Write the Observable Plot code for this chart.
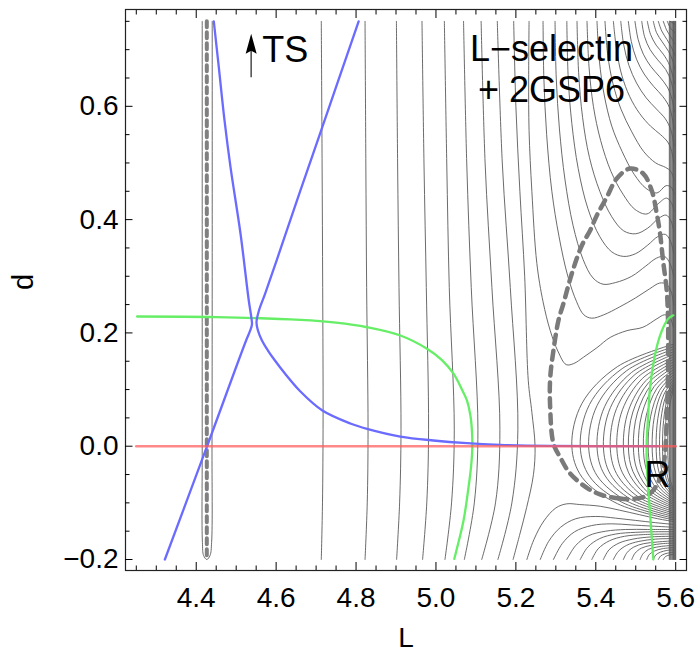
<!DOCTYPE html>
<html><head><meta charset="utf-8">
<script src="https://cdn.jsdelivr.net/npm/d3@7"></script>
<script src="https://cdn.jsdelivr.net/npm/@observablehq/plot@0.6"></script>
<style>body{margin:0;background:#fff}#chart{width:698px;height:656px}</style>
</head><body><div id="chart"></div>
<script>
// ---- tick values ----
const xMajor = [4.4, 4.6, 4.8, 5.0, 5.2, 5.4, 5.6];
const xMinor = [4.25,4.3,4.35,4.45,4.5,4.55,4.65,4.7,4.75,4.85,4.9,4.95,5.05,5.1,5.15,5.25,5.3,5.35,5.45,5.5,5.55];
const yMajor = [-0.2, 0.0, 0.2, 0.4, 0.6];
const yMinor = [-0.15,-0.1,-0.05,0.05,0.1,0.15,0.25,0.3,0.35,0.45,0.5,0.55,0.65,0.7,0.75];

// ---- gray contour lines [L, d] ----
const contourLeft = [
  [[4.415,0.75],[4.415,0.3],[4.415,0.0],[4.4155,-0.17],[4.4185,-0.193],[4.4265,-0.2],[4.4345,-0.193],[4.4385,-0.17],[4.4395,0.0],[4.44,0.3],[4.44,0.75]],
  [[4.713,0.75],[4.715,0.5],[4.7165,0.28],[4.7175,0.05],[4.716,-0.1],[4.713,-0.2]],
  [[4.8225,0.75],[4.8245,0.5],[4.8265,0.28],[4.83,0.03],[4.828,-0.1],[4.8225,-0.2]],
  [[4.901,0.75],[4.904,0.5],[4.9075,0.28],[4.9125,0.03],[4.909,-0.1],[4.9015,-0.2]],
  [[4.965,0.75],[4.97,0.5],[4.9758,0.28],[4.9815,0.03],[4.977,-0.1],[4.9665,-0.2]],
  [[5.021,0.75],[5.027,0.5],[5.0333,0.28],[5.0458,0.03],[5.039,-0.1],[5.0225,-0.2]],
  [[5.069,0.75],[5.077,0.5],[5.0883,0.28],[5.105,0.03],[5.096,-0.1],[5.071,-0.2]],
  [[5.113,0.75],[5.123,0.5],[5.14,0.28],[5.16,0.03],[5.149,-0.1],[5.1145,-0.2]],
  [[5.1535,0.75],[5.166,0.5],[5.186,0.28],[5.205,0.03],[5.19,-0.1],[5.155,-0.2]],
  [[5.1945,0.75],[5.2,0.6],[5.21,0.45],[5.222,0.3],[5.231,0.116],[5.24,0.06],[5.248,0.0],[5.244,-0.05],[5.227,-0.108],[5.21,-0.155],[5.193,-0.2]]
];
const contourUpper = [
  [[5.233,0.75],[5.232,0.65],[5.233,0.557],[5.24,0.45],[5.2525,0.3225],[5.268,0.255],[5.286,0.204],[5.305,0.168],[5.326,0.144],[5.345,0.146],[5.369,0.157],[5.403,0.174],[5.436,0.192],[5.478,0.204],[5.518,0.21],[5.553,0.225],[5.572,0.232],[5.585,0.228],[5.594,0.21]],
  [[5.268,0.75],[5.27,0.65],[5.277,0.55],[5.29,0.45],[5.308,0.37],[5.33,0.3],[5.352,0.255],[5.37,0.232],[5.39,0.226],[5.42,0.232],[5.46,0.246],[5.5,0.262],[5.535,0.278],[5.56,0.288],[5.577,0.286],[5.589,0.272],[5.595,0.25]],
  [[5.298,0.75],[5.301,0.65],[5.309,0.56],[5.323,0.47],[5.343,0.39],[5.368,0.33],[5.393,0.297],[5.418,0.286],[5.45,0.289],[5.49,0.3],[5.525,0.318],[5.552,0.332],[5.572,0.335],[5.586,0.322],[5.595,0.3]],
  [[5.3275,0.75],[5.331,0.65],[5.34,0.57],[5.356,0.49],[5.38,0.42],[5.41,0.37],[5.44,0.343],[5.47,0.335],[5.5,0.34],[5.53,0.355],[5.555,0.37],[5.574,0.374],[5.587,0.362],[5.595,0.34]],
  [[5.353,0.75],[5.357,0.66],[5.367,0.58],[5.384,0.51],[5.41,0.45],[5.44,0.405],[5.47,0.38],[5.5,0.375],[5.53,0.385],[5.557,0.402],[5.576,0.408],[5.588,0.398],[5.595,0.38]],
  [[5.378,0.75],[5.383,0.67],[5.394,0.6],[5.412,0.54],[5.438,0.485],[5.468,0.445],[5.498,0.418],[5.528,0.41],[5.556,0.428],[5.577,0.438],[5.589,0.43],[5.596,0.415]],
  [[5.403,0.75],[5.409,0.68],[5.421,0.62],[5.44,0.565],[5.466,0.52],[5.496,0.48],[5.526,0.455],[5.553,0.447],[5.576,0.46],[5.589,0.457],[5.596,0.445]],
  [[5.423,0.75],[5.43,0.69],[5.443,0.64],[5.463,0.595],[5.49,0.555],[5.52,0.52],[5.55,0.5],[5.575,0.492],[5.588,0.485],[5.596,0.47]],
  [[5.444,0.75],[5.452,0.7],[5.465,0.655],[5.485,0.617],[5.51,0.587],[5.537,0.565],[5.562,0.55],[5.58,0.537],[5.59,0.52],[5.595,0.5]],
  [[5.4625,0.75],[5.47,0.708],[5.483,0.672],[5.502,0.641],[5.526,0.615],[5.552,0.595],[5.574,0.578],[5.588,0.558],[5.596,0.53]],
  [[5.4815,0.75],[5.489,0.714],[5.502,0.683],[5.521,0.657],[5.545,0.635],[5.568,0.617],[5.585,0.597],[5.596,0.56]],
  [[5.498,0.75],[5.506,0.718],[5.519,0.692],[5.538,0.67],[5.56,0.652],[5.579,0.634],[5.591,0.612],[5.597,0.59]],
  [[5.515,0.75],[5.522,0.723],[5.536,0.7],[5.555,0.682],[5.575,0.665],[5.589,0.643],[5.597,0.615]],
  [[5.529,0.75],[5.537,0.727],[5.551,0.708],[5.569,0.692],[5.585,0.672],[5.597,0.64]],
  [[5.544,0.75],[5.552,0.73],[5.566,0.714],[5.582,0.697],[5.593,0.68],[5.598,0.665]],
  [[5.5565,0.75],[5.565,0.733],[5.578,0.718],[5.59,0.703],[5.598,0.69]],
  [[5.569,0.75],[5.577,0.735],[5.588,0.722],[5.598,0.71]],
  [[5.579,0.75],[5.587,0.738],[5.598,0.73]],
  [[5.586,0.75],[5.598,0.745]]
];
const contourLower = [
  [[5.2275,-0.2],[5.245,-0.165],[5.27,-0.132],[5.3,-0.109],[5.3275,-0.1017],[5.36,-0.103],[5.411,-0.106],[5.46,-0.113],[5.51,-0.121],[5.555,-0.128],[5.594,-0.133]],
  [[5.261,-0.2],[5.282,-0.168],[5.312,-0.143],[5.35,-0.128],[5.4,-0.124],[5.45,-0.127],[5.5,-0.131],[5.55,-0.135],[5.594,-0.138]],
  [[5.294,-0.2],[5.316,-0.172],[5.347,-0.151],[5.39,-0.14],[5.44,-0.137],[5.49,-0.139],[5.54,-0.141],[5.594,-0.143]],
  [[5.3275,-0.2],[5.35,-0.175],[5.382,-0.158],[5.425,-0.15],[5.475,-0.147],[5.53,-0.147],[5.594,-0.147]],
  [[5.361,-0.2],[5.38,-0.178],[5.41,-0.163],[5.45,-0.155],[5.5,-0.152],[5.55,-0.151],[5.594,-0.151]],
  [[5.39,-0.2],[5.406,-0.181],[5.434,-0.167],[5.472,-0.159],[5.52,-0.156],[5.594,-0.155]],
  [[5.419,-0.2],[5.433,-0.183],[5.458,-0.171],[5.493,-0.164],[5.54,-0.16],[5.594,-0.159]],
  [[5.444,-0.2],[5.456,-0.186],[5.477,-0.175],[5.508,-0.168],[5.55,-0.164],[5.594,-0.163]],
  [[5.469,-0.2],[5.478,-0.188],[5.495,-0.178],[5.52,-0.172],[5.555,-0.169],[5.594,-0.167]],
  [[5.49,-0.2],[5.498,-0.189],[5.514,-0.18],[5.538,-0.175],[5.566,-0.172],[5.594,-0.171]],
  [[5.511,-0.2],[5.518,-0.19],[5.532,-0.182],[5.553,-0.178],[5.575,-0.176],[5.594,-0.175]],
  [[5.5275,-0.2],[5.534,-0.191],[5.547,-0.185],[5.566,-0.181],[5.594,-0.179]],
  [[5.544,-0.2],[5.55,-0.192],[5.562,-0.187],[5.578,-0.184],[5.594,-0.183]],
  [[5.5565,-0.2],[5.562,-0.194],[5.573,-0.19],[5.594,-0.187]],
  [[5.569,-0.2],[5.574,-0.195],[5.584,-0.192],[5.595,-0.191]]
];
const contourLoops = [
  [[5.594,0.18],[5.454,0.1404],[5.3654,0.0756],[5.34,0],[5.3654,-0.0546],[5.454,-0.1014],[5.594,-0.13]],
  [[5.594,0.1755],[5.4659,0.1369],[5.3843,0.0737],[5.361,0],[5.3843,-0.0533],[5.4659,-0.0991],[5.594,-0.127]],
  [[5.594,0.171],[5.4774,0.1334],[5.4032,0.0718],[5.382,0],[5.4032,-0.0521],[5.4774,-0.0967],[5.594,-0.124]],
  [[5.594,0.1665],[5.489,0.1299],[5.4221,0.0699],[5.403,0],[5.4221,-0.0508],[5.489,-0.0944],[5.594,-0.121]],
  [[5.594,0.162],[5.4978,0.1264],[5.4365,0.068],[5.419,0],[5.4365,-0.0496],[5.4978,-0.092],[5.594,-0.118]],
  [[5.594,0.1575],[5.5069,0.1229],[5.4518,0.0662],[5.436,0],[5.4518,-0.0483],[5.5069,-0.0897],[5.594,-0.115]],
  [[5.594,0.153],[5.5162,0.1193],[5.4667,0.0643],[5.4525,0],[5.4667,-0.047],[5.5162,-0.0874],[5.594,-0.112]],
  [[5.594,0.1485],[5.5253,0.1158],[5.4815,0.0624],[5.469,0],[5.4815,-0.0458],[5.5253,-0.085],[5.594,-0.109]],
  [[5.594,0.144],[5.5321,0.1123],[5.4928,0.0605],[5.4815,0],[5.4928,-0.0445],[5.5321,-0.0827],[5.594,-0.106]],
  [[5.594,0.1395],[5.539,0.1088],[5.504,0.0586],[5.494,0],[5.504,-0.0433],[5.539,-0.0803],[5.594,-0.103]],
  [[5.594,0.135],[5.5459,0.1053],[5.5153,0.0567],[5.5065,0],[5.5153,-0.042],[5.5459,-0.078],[5.594,-0.1]],
  [[5.594,0.1305],[5.5528,0.1018],[5.5265,0.0548],[5.519,0],[5.5265,-0.0407],[5.5528,-0.0757],[5.594,-0.097]],
  [[5.594,0.126],[5.5594,0.0983],[5.5373,0.0529],[5.531,0],[5.5373,-0.0395],[5.5594,-0.0733],[5.594,-0.094]],
  [[5.594,0.1215],[5.5649,0.0948],[5.5463,0.051],[5.541,0],[5.5463,-0.0382],[5.5649,-0.071],[5.594,-0.091]],
  [[5.594,0.117],[5.5704,0.0913],[5.5553,0.0491],[5.551,0],[5.5553,-0.037],[5.5704,-0.0686],[5.594,-0.088]],
  [[5.594,0.1125],[5.575,0.0878],[5.563,0.0473],[5.5595,0],[5.563,-0.0357],[5.575,-0.0663],[5.594,-0.085]],
  [[5.594,0.108],[5.5792,0.0842],[5.5697,0.0454],[5.567,0],[5.5697,-0.0344],[5.5792,-0.064],[5.594,-0.082]],
  [[5.594,0.1035],[5.5825,0.0807],[5.5751,0.0435],[5.573,0],[5.5751,-0.0332],[5.5825,-0.0616],[5.594,-0.079]],
  [[5.594,0.099],[5.5863,0.0772],[5.5814,0.0416],[5.58,0],[5.5814,-0.0319],[5.5863,-0.0593],[5.594,-0.076]]
];
const contourWall = [
  [[5.584,0.75],[5.584,-0.2]],[[5.586,0.75],[5.586,-0.2]],
  [[5.588,0.75],[5.588,-0.2]],[[5.5905,0.75],[5.5905,-0.2]],[[5.5925,0.75],[5.5925,-0.2]],
  [[5.5945,0.75],[5.5945,-0.2]],[[5.596,0.75],[5.596,-0.2]],[[5.5975,0.75],[5.5975,-0.2]],
  [[5.599,0.75],[5.599,-0.2]],[[5.6,0.75],[5.6,-0.2]]
];

// ---- dashed curves ----
const dashedLeft = [[4.4265,0.75],[4.4265,-0.2]];
const dashedRight = [[5.4608,-0.0922],[5.4183,-0.087],[5.3815,-0.0752],[5.3358,-0.0482],[5.3108,-0.0194],[5.294,0.0048],[5.2858,0.0688],[5.2858,0.1195],[5.294,0.1689],[5.3065,0.2219],[5.319,0.2519],[5.34,0.3049],[5.365,0.3543],[5.3858,0.3808],[5.4025,0.4073],[5.4275,0.4395],[5.4525,0.4726],[5.4858,0.4902],[5.5183,0.4814],[5.54,0.4514],[5.5525,0.4108],[5.5608,0.3755],[5.5683,0.3278],[5.5775,0.2749],[5.5808,0.2219],[5.5808,0.146],[5.5795,0.0865],[5.5765,0.0277],[5.5733,-0.0129],[5.565,-0.0482],[5.5433,-0.0782],[5.5183,-0.09],[5.4775,-0.0935],[5.4608,-0.0922]];

// ---- nullclines / separatrices ----
const greenLeft = [[4.252,0.229],[4.45,0.228],[4.661,0.223],[4.75,0.218],[4.8275,0.21],[4.911,0.1954],[4.9775,0.172],[5.015,0.152],[5.044,0.128],[5.065,0.1],[5.0775,0.0807],[5.086,0.055],[5.09,0.0277],[5.091,-0.0018],[5.088,-0.035],[5.0815,-0.0724],[5.069,-0.131],[5.0458,-0.199]];
const greenRight = [[5.544,-0.2],[5.5358,-0.119],[5.5275,-0.03],[5.5275,0.01],[5.5315,0.058],[5.5358,0.104],[5.5525,0.175],[5.569,0.21],[5.5815,0.225],[5.594,0.231]];
const blueLeft = [[4.444,0.75],[4.4565,0.669],[4.4708,0.575],[4.4858,0.4925],[4.5108,0.3755],[4.5315,0.2572],[4.5383,0.2254],[4.5395,0.215],[4.5352,0.2043],[4.5248,0.1866],[4.4272,0.0],[4.3215,-0.2]];
const blueRight = [[4.8065,0.75],[4.7125,0.5573],[4.6608,0.4514],[4.6125,0.3513],[4.5725,0.2695],[4.557,0.2395],[4.5508,0.2184],[4.5545,0.2043],[4.5645,0.1866],[4.5795,0.1689],[4.597,0.1513],[4.622,0.1283],[4.6608,0.0966],[4.7158,0.063],[4.7858,0.0401],[4.8275,0.0307],[4.9108,0.0171],[4.9933,0.0101],[5.0775,0.0053],[5.1608,0.0025],[5.2858,0.0007],[5.5558,0]];
const redLine = [[4.25,0],[5.6,0]];

// ---- annotations ----
const titleNote = [{text: "L\u2212selectin\n+ 2GSP6", L: 5.289, d: 0.7313}];
const tsNote = [{text: "TS", L: 4.565, d: 0.723}];
const rNote = [{text: "R", L: 5.5545, d: -0.0272}];
const tsArrow = {L: 4.5375, d1: 0.6514, d2: 0.706, head: 0.7105};

// ---- build tables ----
const toRows = (lines, g) => lines.flatMap((pts, i) => pts.map(([L, d]) => ({id: g + i, L, d})));
const grayRows = [
  ...toRows(contourLeft, "l"), ...toRows(contourUpper, "u"), ...toRows(contourLower, "w"),
  ...toRows(contourLoops, "o"), ...toRows(contourWall, "x")
];
const pts = a => a.map(([L, d]) => ({L, d}));

const arrowHead = {draw(c) { c.moveTo(0, -10); c.lineTo(5.5, 10); c.lineTo(0, 7); c.lineTo(-5.5, 10); c.closePath(); }};
const blank = () => "";
const font = "Liberation Sans, Arial, Helvetica, sans-serif";

const chart = Plot.plot({
  width: 698, height: 656,
  marginLeft: 125, marginRight: 12, marginTop: 9, marginBottom: 86,
  x: {domain: [4.223, 5.627]},
  y: {domain: [-0.2194, 0.7709]},
  style: {fontFamily: font, fontSize: "28px", color: "#000", background: "#fff"},
  marks: [
    Plot.line(grayRows, {x: "L", y: "d", z: "id", curve: "catmull-rom", stroke: "#5a5a5a", strokeWidth: 0.9, clip: true}),
    Plot.line(pts(dashedLeft), {x: "L", y: "d", stroke: "#808080", strokeWidth: 4, strokeDasharray: "6,5"}),
    Plot.line(pts(dashedRight), {x: "L", y: "d", curve: "catmull-rom", stroke: "#7a7a7a", strokeWidth: 4.5, strokeDasharray: "9,7"}),
    Plot.line(pts(greenLeft), {x: "L", y: "d", curve: "catmull-rom", stroke: "#66ee66", strokeWidth: 2.3}),
    Plot.line(pts(greenRight), {x: "L", y: "d", curve: "catmull-rom", stroke: "#66ee66", strokeWidth: 2.3}),
    Plot.line(pts(blueLeft), {x: "L", y: "d", curve: "catmull-rom", stroke: "#6b6bff", strokeWidth: 2.3}),
    Plot.line(pts(blueRight), {x: "L", y: "d", curve: "catmull-rom", stroke: "#6b6bff", strokeWidth: 2.3}),
    Plot.line(pts(redLine), {x: "L", y: "d", stroke: "#ff5a5a", strokeOpacity: 0.72, strokeWidth: 2.6}),
    Plot.frame({stroke: "#222", strokeWidth: 1.2}),
    Plot.axisX(xMajor, {anchor: "bottom", tickSize: -8, tickPadding: 25, tickFormat: d3.format(".1f"), label: null}),
    Plot.axisX(xMinor, {anchor: "bottom", tickSize: -4.5, tickFormat: blank, label: null}),
    Plot.axisX(xMajor, {anchor: "top", tickSize: -8, tickFormat: blank, label: null}),
    Plot.axisX(xMinor, {anchor: "top", tickSize: -4.5, tickFormat: blank, label: null}),
    Plot.axisY(yMajor, {anchor: "left", tickSize: -7.5, tickPadding: 14.5, tickFormat: d3.format(".1f"), label: null}),
    Plot.axisY(yMinor, {anchor: "left", tickSize: -4.5, tickFormat: blank, label: null}),
    Plot.axisY(yMajor, {anchor: "right", tickSize: -7.5, tickFormat: blank, label: null}),
    Plot.axisY(yMinor, {anchor: "right", tickSize: -4.5, tickFormat: blank, label: null}),
    Plot.link([tsArrow], {x1: "L", x2: "L", y1: "d1", y2: "d2", stroke: "#555", strokeWidth: 1.6}),
    Plot.dot([tsArrow], {x: "L", y: "head", symbol: arrowHead, fill: "#000", stroke: "none", r: 5}),
    Plot.text(titleNote, {x: "L", y: "d", text: "text", textAnchor: "middle", lineAnchor: "top", fontSize: 36, lineHeight: 1.14, fill: "#000"}),
    Plot.text(tsNote, {x: "L", y: "d", text: "text", textAnchor: "start", lineAnchor: "top", fontSize: 36, fill: "#000"}),
    Plot.text(rNote, {x: "L", y: "d", text: "text", textAnchor: "middle", lineAnchor: "top", fontSize: 36, fill: "#000"}),
    Plot.text(["L"], {text: d => d, frameAnchor: "bottom", dy: 68, fontSize: 28, lineAnchor: "middle"}),
    Plot.text(["d"], {text: d => d, frameAnchor: "left", dx: -102, rotate: -90, fontSize: 29, lineAnchor: "middle"})
  ]
});
document.getElementById("chart").appendChild(chart);
</script>
</body></html>
